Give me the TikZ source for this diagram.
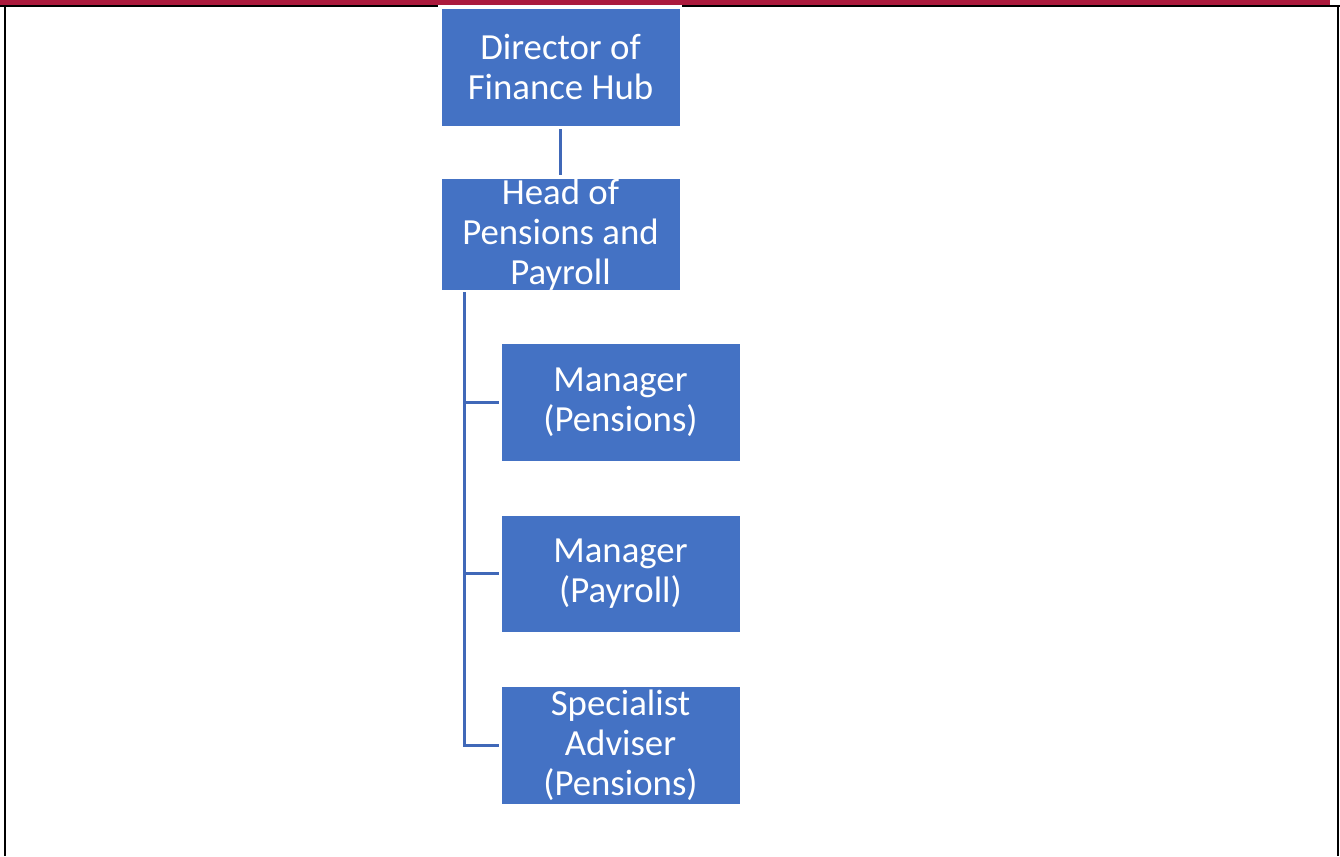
\documentclass[tikz,border=0pt]{standalone}
\usepackage{fontspec}
\setmainfont{Carlito}
\definecolor{boxblue}{HTML}{4472C4}
\definecolor{linkblue}{HTML}{4068B8}
\definecolor{bandred}{HTML}{AB1A3D}
\begin{document}
\begin{tikzpicture}[x=1pt,y=-1pt,
  orgbox/.style={rectangle, fill=boxblue, draw=white, line width=0.8pt,
    minimum width=239pt, minimum height=118pt, inner sep=0pt,
    text=white, align=center, font=\fontsize{36.8}{40}\selectfont},
  link/.style={draw=linkblue, line width=3pt},
  frame/.style={draw=black, line width=2.5pt}]
  \useasboundingbox (0,0) rectangle (1340,856);

  % page band and frame
  \fill[bandred] (0,0) rectangle (1330,5);
  \draw[frame] (0,6.2) -- (438,6.2);
  \draw[frame] (682,6.2) -- (1340,6.2);
  \draw[frame] (5,6) -- (5,856);
  \draw[frame] (1338,6) -- (1338,856);

  % boxes
  \node[orgbox] (dir) at (560.5,67) {Director of\\Finance Hub};
  \node[orgbox, minimum height=109pt] (head) at (560.5,234.5) {Head of\\Pensions and\\Payroll};
  \node[orgbox] (mp) at (620.5,402) {Manager\\(Pensions)};
  \node[orgbox, minimum height=117pt] (mpay) at (620.5,573.5) {Manager\\(Payroll)};
  \node[orgbox] (spec) at (620.5,745) {Specialist\\Adviser\\(Pensions)};

  % connectors
  \draw[link, shorten <=3pt, shorten >=3pt] (dir.south) -- (head.north);
  \coordinate (trunk) at (464,292);
  \draw[link] (trunk) |- ([xshift=-2pt]spec.west);
  \draw[link] (trunk |- mp.west) -- ([xshift=-2pt]mp.west);
  \draw[link] (trunk |- mpay.west) -- ([xshift=-2pt]mpay.west);
\end{tikzpicture}
\end{document}
